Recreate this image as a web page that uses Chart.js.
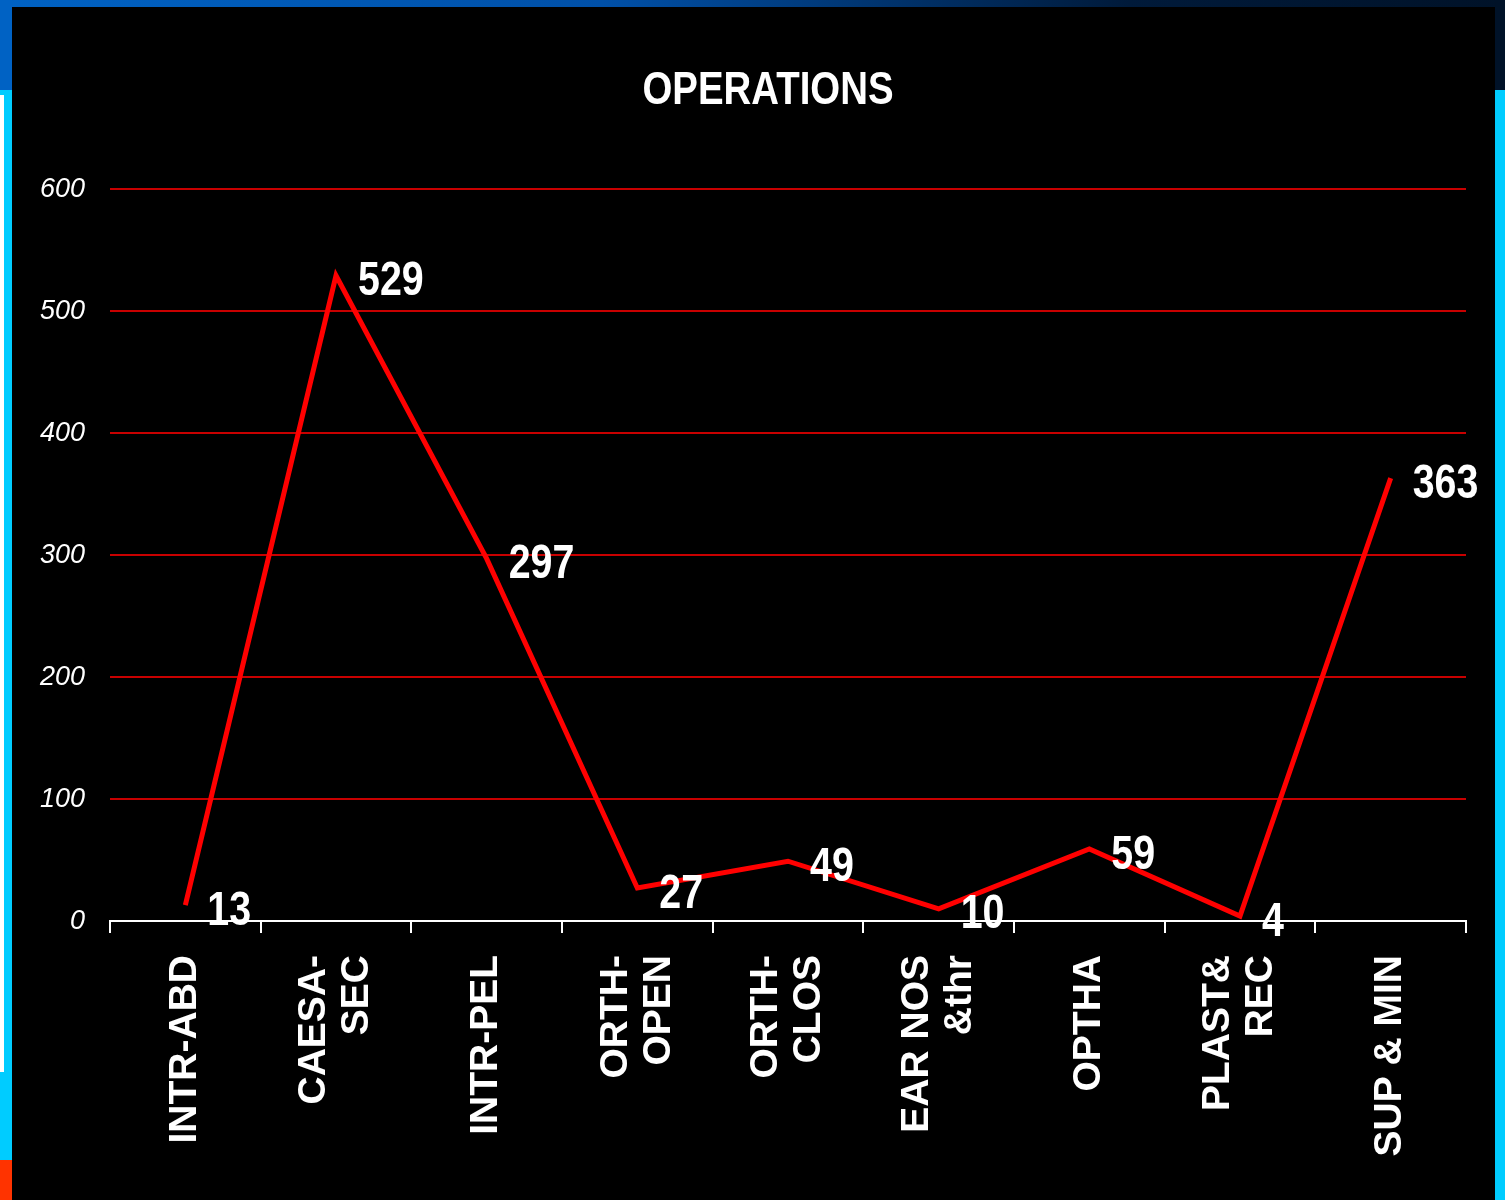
<!DOCTYPE html>
<html>
<head>
<meta charset="utf-8">
<script src="https://cdn.jsdelivr.net/npm/chart.js@4.4.1/dist/chart.umd.min.js"></script>
<style>
  html, body { margin: 0; padding: 0; background: #ffffff; width: 1508px; height: 1200px; overflow: hidden; }
  .frame { position: absolute; }
  #wrap { position: absolute; left: 12px; top: 7px; width: 1483px; height: 1193px; background: #000; }
</style>
</head>
<body>
<div class="frame" style="left:0;top:0;width:1505px;height:7px;background:linear-gradient(to right,#0062c4,#0050a8 40%,#001a3a 75%,#001228);"></div>
<div class="frame" style="left:0;top:0;width:12px;height:90px;background:#0062c4;"></div>
<div class="frame" style="left:0;top:90px;width:12px;height:1070px;background:#00ccff;"></div>
<div class="frame" style="left:0;top:95px;width:4px;height:977px;background:#ffffff;"></div>
<div class="frame" style="left:0;top:1160px;width:12px;height:40px;background:#ff3300;"></div>
<div class="frame" style="left:1495px;top:0;width:10px;height:90px;background:#001228;"></div>
<div class="frame" style="left:1495px;top:90px;width:10px;height:1110px;background:#00ccff;"></div>
<div id="wrap"><canvas id="c" width="1483" height="1193"></canvas></div>
<script>
// ---- data ----
const categories = ['INTR-ABD', ['CAESA-', 'SEC'], 'INTR-PEL', ['ORTH-', 'OPEN'], ['ORTH-', 'CLOS'], ['EAR NOS', '&thr'], 'OPTHA', ['PLAST&', 'REC'], 'SUP & MIN'];
const operations = [13, 529, 297, 27, 49, 10, 59, 4, 363];
const yTicks = [0, 100, 200, 300, 400, 500, 600];
const chartTitle = 'OPERATIONS';

const SANS = '"Liberation Sans", Arial, sans-serif';
const X_LINE = 43;

// condensed (narrow) bold text: Liberation Sans Bold squeezed horizontally
function drawNarrow(ctx, text, x, y, size, squeeze, align) {
  ctx.save();
  ctx.font = 'bold ' + size + 'px ' + SANS;
  ctx.fillStyle = '#ffffff';
  ctx.textAlign = align;
  ctx.textBaseline = 'alphabetic';
  ctx.translate(x, y);
  ctx.scale(squeeze, 1);
  ctx.fillText(text, 0, 0);
  ctx.restore();
}

const narrowText = {
  id: 'narrowText',
  afterDatasetsDraw(chart) {
    const ctx = chart.ctx;
    const meta = chart.getDatasetMeta(0);
    meta.data.forEach((pt, i) => {
      drawNarrow(ctx, String(operations[i]), pt.x + 22, pt.y + 19.5, 48, 0.82, 'left');
    });
    drawNarrow(ctx, chartTitle, 756, 96.5, 46, 0.835, 'center');
  }
};

new Chart(document.getElementById('c'), {
  type: 'line',
  data: {
    labels: categories,
    datasets: [{
      data: operations,
      borderColor: '#ff0000',
      borderWidth: 5,
      pointRadius: 0,
      tension: 0,
      fill: false,
      borderJoinStyle: 'miter'
    }]
  },
  options: {
    responsive: false,
    animation: false,
    devicePixelRatio: 1,
    layout: { padding: { left: 0, right: 29, top: 182, bottom: 0 } },
    plugins: {
      legend: { display: false },
      tooltip: { enabled: false },
      title: { display: false }
    },
    scales: {
      x: {
        type: 'category',
        offset: true,
        grid: {
          offset: true,
          drawOnChartArea: false,
          drawTicks: true,
          tickLength: 12,
          color: '#ffffff',
          lineWidth: 2
        },
        border: { display: true, color: '#ffffff', width: 2 },
        ticks: {
          color: '#ffffff',
          maxRotation: 90,
          minRotation: 90,
          autoSkip: false,
          padding: 22,
          labelOffset: -X_LINE / 2,
          showLabelBackdrop: (c) => !Array.isArray(categories[c.index]),
          backdropColor: 'rgba(0,0,0,0)',
          backdropPadding: 0,
          font: { family: SANS, size: 39, weight: 'bold', lineHeight: X_LINE / 39 }
        },
        afterFit(scale) { scale.height = 279; }
      },
      y: {
        min: 0,
        max: 600,
        afterBuildTicks(scale) { scale.ticks = yTicks.map(v => ({ value: v })); },
        grid: {
          drawTicks: false,
          color: (c) => (c.tick && c.tick.value === 0) ? 'rgba(0,0,0,0)' : '#c80000',
          lineWidth: 2
        },
        border: { display: false },
        ticks: {
          color: '#ffffff',
          padding: 25,
          font: { family: SANS, size: 27, style: 'italic', weight: 'normal' }
        },
        afterFit(scale) { scale.width = 98; }
      }
    }
  },
  plugins: [narrowText]
});
</script>
</body>
</html>
